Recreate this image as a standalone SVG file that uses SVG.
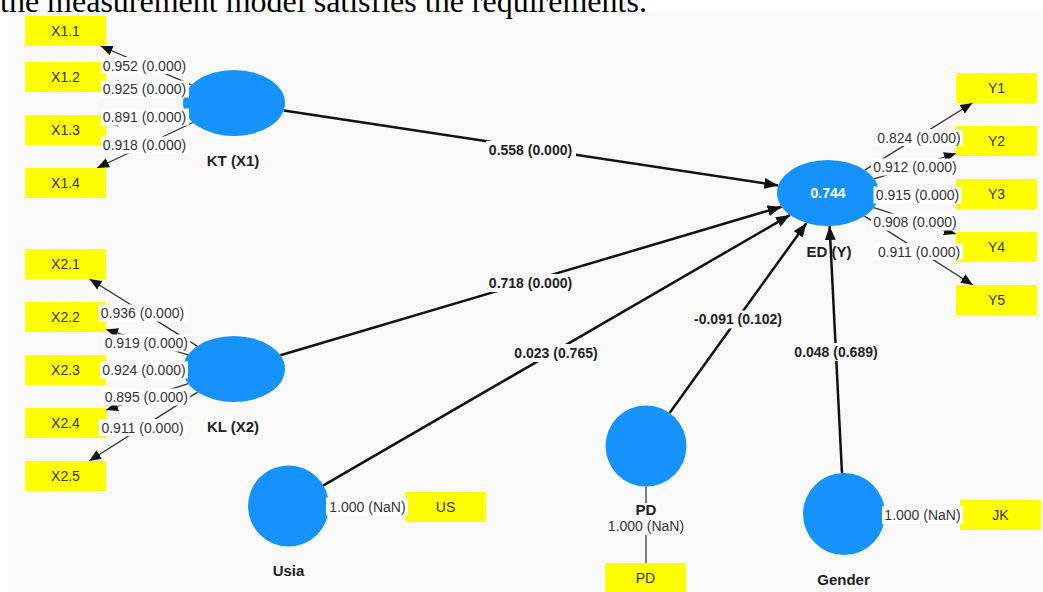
<svg xmlns="http://www.w3.org/2000/svg" width="1043" height="592" viewBox="0 0 1043 592">
<defs>
<marker id="ah" markerUnits="userSpaceOnUse" markerWidth="15" markerHeight="12" refX="14" refY="5.5" orient="auto"><path d="M0,0 L14,5.5 L0,11 z" fill="#111"/></marker>
<marker id="ai" markerUnits="userSpaceOnUse" markerWidth="13" markerHeight="11" refX="12" refY="5" orient="auto"><path d="M0,0 L12,5 L0,10 z" fill="#111"/></marker>
<style>
.box{fill:#ffff00}
.bt{font-family:"Liberation Sans",Arial,sans-serif;font-size:14px;fill:#333;text-anchor:middle}
.lv{fill:#1592fb}
.nl{font-family:"Liberation Sans",Arial,sans-serif;font-size:15px;font-weight:bold;fill:#222;text-anchor:middle}
.ind{stroke:#333;stroke-width:1.3;fill:none;marker-end:url(#ai)}
.str{stroke:#111;stroke-width:2.5;fill:none;marker-end:url(#ah)}
.il{font-family:"Liberation Sans",Arial,sans-serif;font-size:14px;fill:#333;text-anchor:middle}
.pl{font-family:"Liberation Sans",Arial,sans-serif;font-size:14px;font-weight:bold;fill:#222;text-anchor:middle}
.wb{fill:#ffffff}
.pb{fill:#f9f9f9}
</style>
</defs>
<rect x="0" y="0" width="1043" height="592" fill="#ffffff"/>
<rect x="8" y="11" width="1033" height="581" fill="#f9f9f9"/>
<text x="0" y="12" font-family="Liberation Serif,Times New Roman,serif" font-size="32" fill="#000">the measurement model satisfies the requirements.</text>

<g id="connectors">
<line class="ind" x1="191.5" y1="84.8" x2="100.6" y2="46"/>
<line class="ind" x1="184.4" y1="95.3" x2="106" y2="83.2"/>
<line class="ind" x1="184.5" y1="110.9" x2="106" y2="123.5"/>
<line class="ind" x1="192.9" y1="122.5" x2="97.1" y2="168"/>
<line class="ind" x1="197.3" y1="346.1" x2="89.6" y2="279"/>
<line class="ind" x1="188" y1="354.8" x2="106" y2="329.5"/>
<line class="ind" x1="183" y1="369.3" x2="106" y2="369.8"/>
<line class="ind" x1="188.3" y1="383.6" x2="106" y2="410"/>
<line class="ind" x1="197.6" y1="392.1" x2="89.1" y2="461"/>
<line class="ind" x1="864.7" y1="170.1" x2="972.4" y2="103"/>
<line class="ind" x1="874" y1="178.8" x2="956" y2="153.5"/>
<line class="ind" x1="879" y1="193.3" x2="956" y2="193.8"/>
<line class="ind" x1="873.7" y1="207.6" x2="956" y2="234"/>
<line class="ind" x1="864.4" y1="216.1" x2="972.9" y2="285"/>
<line x1="328.5" y1="506.5" x2="405" y2="506.5" stroke="#555" stroke-width="1.3"/>
<line x1="885" y1="514.5" x2="960" y2="514.5" stroke="#555" stroke-width="1.3"/>
<line x1="646" y1="486.5" x2="646" y2="563" stroke="#555" stroke-width="1.5"/>
<line class="str" x1="283.7" y1="110.5" x2="778.3" y2="185.5"/>
<line class="str" x1="280.4" y1="355.3" x2="781.6" y2="206.7"/>
<line class="str" x1="323" y1="485.7" x2="790" y2="215"/>
<line class="str" x1="669.6" y1="413.1" x2="806.5" y2="222.9"/>
<line class="str" x1="842" y1="473.6" x2="829.6" y2="226"/>
</g>

<g id="node-X1.1"><rect class="box" x="25" y="16" width="81" height="30"/><text class="bt" x="65.5" y="36">X1.1</text></g>
<g id="node-X1.2"><rect class="box" x="25" y="62" width="81" height="30"/><text class="bt" x="65.5" y="82">X1.2</text></g>
<g id="node-X1.3"><rect class="box" x="25" y="115" width="81" height="30"/><text class="bt" x="65.5" y="135">X1.3</text></g>
<g id="node-X1.4"><rect class="box" x="25" y="168" width="81" height="30"/><text class="bt" x="65.5" y="188">X1.4</text></g>
<g id="node-X2.1"><rect class="box" x="25" y="249" width="81" height="30"/><text class="bt" x="65.5" y="269">X2.1</text></g>
<g id="node-X2.2"><rect class="box" x="25" y="302" width="81" height="30"/><text class="bt" x="65.5" y="322">X2.2</text></g>
<g id="node-X2.3"><rect class="box" x="25" y="355" width="81" height="30"/><text class="bt" x="65.5" y="375">X2.3</text></g>
<g id="node-X2.4"><rect class="box" x="25" y="408" width="81" height="30"/><text class="bt" x="65.5" y="428">X2.4</text></g>
<g id="node-X2.5"><rect class="box" x="25" y="461" width="81" height="30"/><text class="bt" x="65.5" y="481">X2.5</text></g>
<g id="node-Y1"><rect class="box" x="956" y="73" width="81" height="30"/><text class="bt" x="996.5" y="93">Y1</text></g>
<g id="node-Y2"><rect class="box" x="956" y="126" width="81" height="30"/><text class="bt" x="996.5" y="146">Y2</text></g>
<g id="node-Y3"><rect class="box" x="956" y="179" width="81" height="30"/><text class="bt" x="996.5" y="199">Y3</text></g>
<g id="node-Y4"><rect class="box" x="956" y="232" width="81" height="30"/><text class="bt" x="996.5" y="252">Y4</text></g>
<g id="node-Y5"><rect class="box" x="956" y="285" width="81" height="30"/><text class="bt" x="996.5" y="305">Y5</text></g>
<g id="node-US"><rect class="box" x="405" y="492" width="81" height="30"/><text class="bt" x="445.5" y="512">US</text></g>
<g id="node-PDbox"><rect class="box" x="605" y="563" width="81" height="30"/><text class="bt" x="645.5" y="583">PD</text></g>
<g id="node-JK"><rect class="box" x="960" y="500" width="81" height="30"/><text class="bt" x="1000.5" y="520">JK</text></g>

<g id="node-KT"><ellipse class="lv" cx="234" cy="103" rx="51" ry="33"/><text class="nl" x="233" y="166">KT (X1)</text></g>
<g id="node-KL"><ellipse class="lv" cx="234" cy="369" rx="51" ry="33"/><text class="nl" x="233" y="431.5">KL (X2)</text></g>
<g id="node-ED"><ellipse class="lv" cx="828" cy="193" rx="51" ry="33"/><text x="828" y="198" font-family="Liberation Sans,Arial,sans-serif" font-size="14" font-weight="bold" fill="#ffffff" text-anchor="middle">0.744</text><text class="nl" x="829" y="257">ED (Y)</text></g>
<g id="node-Usia"><circle class="lv" cx="288.5" cy="506" r="40.5"/><text class="nl" x="288.5" y="576">Usia</text></g>
<g id="node-PD"><circle class="lv" cx="646" cy="446" r="40.5"/></g>
<g id="node-Gender"><circle class="lv" cx="844" cy="514" r="41"/><text class="nl" x="843.5" y="584.5">Gender</text></g>

<g id="edge-labels">
<rect class="wb" x="101" y="57" width="88" height="17"/><text class="il" x="144.5" y="70.7">0.952 (0.000)</text>
<rect class="wb" x="101" y="80.5" width="88" height="17"/><text class="il" x="144.5" y="94.3">0.925 (0.000)</text>
<rect class="wb" x="101" y="108.5" width="88" height="17"/><text class="il" x="144.5" y="122.3">0.891 (0.000)</text>
<rect class="wb" x="101" y="136.5" width="88" height="17"/><text class="il" x="144.5" y="150.3">0.918 (0.000)</text>

<rect class="wb" x="98.5" y="304.5" width="88" height="17"/><text class="il" x="142.5" y="318.3">0.936 (0.000)</text>
<rect class="wb" x="102.3" y="334.5" width="88" height="17"/><text class="il" x="146.3" y="348.3">0.919 (0.000)</text>
<rect class="wb" x="100" y="361.5" width="88" height="17"/><text class="il" x="144" y="375">0.924 (0.000)</text>
<rect class="wb" x="102.3" y="388.5" width="88" height="17"/><text class="il" x="146.3" y="402.3">0.895 (0.000)</text>
<rect class="wb" x="98.5" y="419" width="88" height="17"/><text class="il" x="142.5" y="432.7">0.911 (0.000)</text>

<rect class="wb" x="875" y="129" width="88" height="17"/><text class="il" x="919" y="142.7">0.824 (0.000)</text>
<rect class="wb" x="871" y="158.5" width="88" height="17"/><text class="il" x="915" y="172.3">0.912 (0.000)</text>
<rect class="wb" x="873.5" y="186.5" width="88" height="17"/><text class="il" x="917.5" y="200">0.915 (0.000)</text>
<rect class="wb" x="871" y="213.5" width="88" height="17"/><text class="il" x="915" y="227.3">0.908 (0.000)</text>
<rect class="wb" x="875" y="243" width="88" height="17"/><text class="il" x="919" y="256.7">0.911 (0.000)</text>

<rect class="wb" x="326" y="497.5" width="82" height="18"/><text class="il" x="367.5" y="511.5">1.000 (NaN)</text>
<rect class="wb" x="882" y="506" width="81" height="18"/><text class="il" x="922.5" y="520">1.000 (NaN)</text>
<rect class="pb" x="607" y="503" width="78" height="32"/>
<text class="nl" x="646" y="515">PD</text>
<text class="il" x="646" y="531">1.000 (NaN)</text>

<rect class="pb" x="486" y="141" width="90" height="18"/><text class="pl" x="530.5" y="155">0.558 (0.000)</text>
<rect class="pb" x="486" y="274" width="90" height="18"/><text class="pl" x="530.5" y="287.7">0.718 (0.000)</text>
<rect class="pb" x="511" y="344" width="90" height="18"/><text class="pl" x="556" y="358">0.023 (0.765)</text>
<rect class="pb" x="691" y="310.5" width="94" height="18"/><text class="pl" x="738" y="324.3">-0.091 (0.102)</text>
<rect class="pb" x="791" y="343" width="90" height="18"/><text class="pl" x="836" y="357">0.048 (0.689)</text>
</g>
</svg>
